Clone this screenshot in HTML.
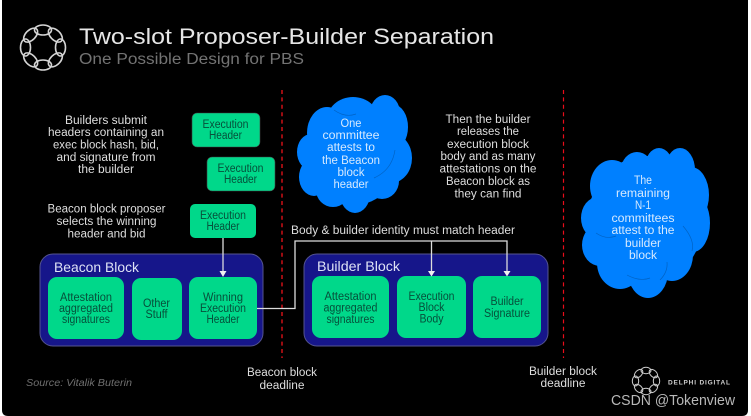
<!DOCTYPE html>
<html><head><meta charset="utf-8"><style>
html,body{margin:0;padding:0;background:#fff;width:751px;height:416px;overflow:hidden}
svg{display:block}
text{font-family:"Liberation Sans",sans-serif;text-anchor:middle}
.b{font-size:11.5px;fill:#dedede}
.c{font-size:11.5px;fill:#074f3a}
.w{font-size:11.5px;fill:#d5e9ff}
</style></head><body>
<svg width="751" height="416" viewBox="0 0 751 416" xmlns="http://www.w3.org/2000/svg">
<defs><filter id="s" x="-5%" y="-5%" width="110%" height="110%"><feGaussianBlur stdDeviation="0.35"/></filter></defs>
<path d="M2 0H748V410Q748 416 742 416H8Q2 416 2 410Z" fill="#000"/>
<g filter="url(#s)">
<!-- logo -->
<g fill="none" stroke="#d4d4d4" stroke-width="1.6" transform="translate(43,47.5)">
<ellipse cx="0" cy="-17.500" rx="8.500" ry="5"/><ellipse cx="0" cy="-17.500" rx="8.500" ry="5" transform="rotate(45)"/><ellipse cx="0" cy="-17.500" rx="8.500" ry="5" transform="rotate(90)"/><ellipse cx="0" cy="-17.500" rx="8.500" ry="5" transform="rotate(135)"/><ellipse cx="0" cy="-17.500" rx="8.500" ry="5" transform="rotate(180)"/><ellipse cx="0" cy="-17.500" rx="8.500" ry="5" transform="rotate(225)"/><ellipse cx="0" cy="-17.500" rx="8.500" ry="5" transform="rotate(270)"/><ellipse cx="0" cy="-17.500" rx="8.500" ry="5" transform="rotate(315)"/>
</g>
<text x="79" y="44" font-size="22" fill="#e6e6e6" style="text-anchor:start" textLength="415" lengthAdjust="spacingAndGlyphs">Two-slot Proposer-Builder Separation</text>
<text x="79" y="64" font-size="15.5" fill="#737373" style="text-anchor:start" textLength="225" lengthAdjust="spacingAndGlyphs">One Possible Design for PBS</text>

<!-- dashed deadlines -->
<line x1="282" y1="90" x2="282" y2="358" stroke="#c00d18" stroke-width="1.6" stroke-dasharray="4 3.4"/>
<line x1="563.5" y1="90" x2="563.5" y2="358" stroke="#e8101c" stroke-width="1.2" stroke-dasharray="4 3.4"/>

<!-- left text -->
<text class="b" x="106" y="124" textLength="82" lengthAdjust="spacingAndGlyphs">Builders submit</text>
<text class="b" x="106" y="136" textLength="116" lengthAdjust="spacingAndGlyphs">headers containing an</text>
<text class="b" x="106" y="148.500" textLength="106" lengthAdjust="spacingAndGlyphs">exec block hash, bid,</text>
<text class="b" x="106" y="161" textLength="99" lengthAdjust="spacingAndGlyphs">and signature from</text>
<text class="b" x="106" y="173" textLength="56" lengthAdjust="spacingAndGlyphs">the builder</text>
<text class="b" x="106.500" y="212.500" textLength="118" lengthAdjust="spacingAndGlyphs">Beacon block proposer</text>
<text class="b" x="106.500" y="225" textLength="100" lengthAdjust="spacingAndGlyphs">selects the winning</text>
<text class="b" x="106.500" y="237.500" textLength="78" lengthAdjust="spacingAndGlyphs">header and bid</text>

<!-- execution headers -->
<rect x="192" y="113" width="68" height="34" rx="5" fill="#00d88a" stroke="#444" stroke-width=".6"/>
<text class="c" x="225.500" y="128" textLength="46" lengthAdjust="spacingAndGlyphs">Execution</text>
<text class="c" x="225.500" y="139" textLength="33" lengthAdjust="spacingAndGlyphs">Header</text>
<rect x="207" y="157" width="68" height="34" rx="5" fill="#00d88a" stroke="#444" stroke-width=".6"/>
<text class="c" x="240.500" y="172" textLength="46" lengthAdjust="spacingAndGlyphs">Execution</text>
<text class="c" x="240.500" y="183" textLength="33" lengthAdjust="spacingAndGlyphs">Header</text>
<rect x="190" y="204" width="66" height="34" rx="5" fill="#00d88a"/>
<text class="c" x="223" y="219" textLength="46" lengthAdjust="spacingAndGlyphs">Execution</text>
<text class="c" x="223" y="230" textLength="33" lengthAdjust="spacingAndGlyphs">Header</text>

<!-- cloud 1 -->
<g fill="#0080ff">
<ellipse cx="354" cy="155" rx="46" ry="50"/>
<ellipse cx="385" cy="113" rx="15" ry="18"/>
<ellipse cx="353" cy="120" rx="26" ry="23"/>
<ellipse cx="327" cy="133" rx="20" ry="26"/>
<ellipse cx="311" cy="152" rx="14" ry="18"/>
<ellipse cx="314" cy="177" rx="15" ry="19"/>
<ellipse cx="333" cy="190" rx="17" ry="17"/>
<ellipse cx="355" cy="194" rx="15" ry="19"/>
<ellipse cx="382" cy="181" rx="17" ry="18"/>
<ellipse cx="391" cy="158" rx="21" ry="25"/>
<ellipse cx="394" cy="127" rx="14" ry="22"/>
</g>
<text class="w" x="351" y="127" textLength="21" lengthAdjust="spacingAndGlyphs">One</text>
<text class="w" x="351" y="139" textLength="57" lengthAdjust="spacingAndGlyphs">committee</text>
<text class="w" x="351" y="151" textLength="48" lengthAdjust="spacingAndGlyphs">attests to</text>
<text class="w" x="351" y="164" textLength="58" lengthAdjust="spacingAndGlyphs">the Beacon</text>
<text class="w" x="351" y="176" textLength="27" lengthAdjust="spacingAndGlyphs">block</text>
<text class="w" x="351" y="188" textLength="35" lengthAdjust="spacingAndGlyphs">header</text>

<!-- middle text -->
<text class="b" x="488" y="123" textLength="85" lengthAdjust="spacingAndGlyphs">Then the builder</text>
<text class="b" x="488" y="135" textLength="62" lengthAdjust="spacingAndGlyphs">releases the</text>
<text class="b" x="488" y="148" textLength="82" lengthAdjust="spacingAndGlyphs">execution block</text>
<text class="b" x="488" y="160" textLength="95" lengthAdjust="spacingAndGlyphs">body and as many</text>
<text class="b" x="488" y="172.500" textLength="97" lengthAdjust="spacingAndGlyphs">attestations on the</text>
<text class="b" x="488" y="185" textLength="84" lengthAdjust="spacingAndGlyphs">Beacon block as</text>
<text class="b" x="488" y="197.500" textLength="67" lengthAdjust="spacingAndGlyphs">they can find</text>

<!-- cloud 2 -->
<g fill="#0080ff">
<ellipse cx="645" cy="222" rx="58" ry="62"/>
<ellipse cx="650" cy="180" rx="42" ry="24"/>
<ellipse cx="612" cy="186" rx="22" ry="26"/>
<ellipse cx="637" cy="170" rx="16" ry="18"/>
<ellipse cx="659" cy="167" rx="14" ry="19"/>
<ellipse cx="680" cy="170" rx="15" ry="22"/>
<ellipse cx="691" cy="195" rx="18" ry="28"/>
<ellipse cx="693" cy="223" rx="17" ry="29"/>
<ellipse cx="672" cy="255" rx="21" ry="26"/>
<ellipse cx="648" cy="272" rx="20" ry="26"/>
<ellipse cx="620" cy="263" rx="23" ry="26"/>
<ellipse cx="600" cy="245" rx="18" ry="21"/>
<ellipse cx="598" cy="218" rx="17" ry="21"/>
</g>
<g fill="none" stroke="#0062c4" stroke-width=".7">
<path d="M596 233Q606 240 616 236"/>
<path d="M683 226Q695 240 692 251"/>
<path d="M627 275Q640 282 650 278"/>
<path d="M660 280Q668 272 667 262"/>
<path d="M374 178Q392 170 395 150"/>
<path d="M334 110Q345 118 356 114"/>
</g>
<text class="w" x="643" y="184" textLength="18" lengthAdjust="spacingAndGlyphs">The</text>
<text class="w" x="643" y="197" textLength="54" lengthAdjust="spacingAndGlyphs">remaining</text>
<text class="w" x="643" y="209" textLength="16" lengthAdjust="spacingAndGlyphs">N-1</text>
<text class="w" x="643" y="222" textLength="63" lengthAdjust="spacingAndGlyphs">committees</text>
<text class="w" x="643" y="234" textLength="63" lengthAdjust="spacingAndGlyphs">attest to the</text>
<text class="w" x="643" y="247" textLength="36" lengthAdjust="spacingAndGlyphs">builder</text>
<text class="w" x="643" y="259" textLength="28" lengthAdjust="spacingAndGlyphs">block</text>

<text class="b" x="403" y="234" textLength="224" lengthAdjust="spacingAndGlyphs">Body &amp; builder identity must match header</text>

<!-- beacon block -->
<rect x="40" y="254" width="223" height="92" rx="13" fill="#12128a" stroke="#55558f" stroke-width="1"/>
<text x="54" y="272" font-size="14" fill="#dfe3f5" style="text-anchor:start" textLength="85" lengthAdjust="spacingAndGlyphs">Beacon Block</text>
<rect x="48" y="277" width="76" height="62" rx="9" fill="#00d88a"/>
<rect x="132" y="278" width="50" height="62" rx="9" fill="#00d88a"/>
<rect x="189" y="277" width="68" height="62" rx="9" fill="#00d88a"/>
<text class="c" x="86" y="301" textLength="52" lengthAdjust="spacingAndGlyphs">Attestation</text>
<text class="c" x="86" y="312" textLength="54" lengthAdjust="spacingAndGlyphs">aggregated</text>
<text class="c" x="86" y="323" textLength="48" lengthAdjust="spacingAndGlyphs">signatures</text>
<text class="c" x="156.500" y="307" textLength="27" lengthAdjust="spacingAndGlyphs">Other</text>
<text class="c" x="156.500" y="318" textLength="22" lengthAdjust="spacingAndGlyphs">Stuff</text>
<text class="c" x="223" y="301" textLength="40" lengthAdjust="spacingAndGlyphs">Winning</text>
<text class="c" x="223" y="312" textLength="46" lengthAdjust="spacingAndGlyphs">Execution</text>
<text class="c" x="223" y="323" textLength="33" lengthAdjust="spacingAndGlyphs">Header</text>

<!-- builder block -->
<rect x="304" y="254" width="244" height="92" rx="13" fill="#12128a" stroke="#55558f" stroke-width="1"/>
<text x="317" y="271" font-size="14" fill="#dfe3f5" style="text-anchor:start" textLength="83" lengthAdjust="spacingAndGlyphs">Builder Block</text>
<rect x="312" y="276" width="77" height="62" rx="9" fill="#00d88a"/>
<rect x="397" y="276" width="69" height="62" rx="9" fill="#00d88a"/>
<rect x="473" y="276" width="68" height="62" rx="9" fill="#00d88a"/>
<text class="c" x="350.500" y="300" textLength="52" lengthAdjust="spacingAndGlyphs">Attestation</text>
<text class="c" x="350.500" y="311.500" textLength="54" lengthAdjust="spacingAndGlyphs">aggregated</text>
<text class="c" x="350.500" y="323" textLength="48" lengthAdjust="spacingAndGlyphs">signatures</text>
<text class="c" x="431.500" y="300" textLength="46" lengthAdjust="spacingAndGlyphs">Execution</text>
<text class="c" x="431.500" y="311" textLength="26" lengthAdjust="spacingAndGlyphs">Block</text>
<text class="c" x="431.500" y="322.500" textLength="24" lengthAdjust="spacingAndGlyphs">Body</text>
<text class="c" x="507" y="305" textLength="33" lengthAdjust="spacingAndGlyphs">Builder</text>
<text class="c" x="507" y="317" textLength="46" lengthAdjust="spacingAndGlyphs">Signature</text>

<!-- connectors -->
<g fill="none" stroke="#dcdcdc" stroke-width="1.3">
<path d="M223 238V271"/>
<path d="M257 308.500H295V241H507V271"/>
<path d="M431.500 241V271"/>
</g>
<g fill="#f0f0f0">
<path d="M219.500 271H226.500L223 277Z"/>
<path d="M428 271H435L431.500 276.500Z"/>
<path d="M503.500 271H510.500L507 276.500Z"/>
</g>

<text x="26" y="386" font-size="10" font-style="italic" fill="#6f6f6f" style="text-anchor:start" textLength="106" lengthAdjust="spacingAndGlyphs">Source: Vitalik Buterin</text>
<text class="b" x="282" y="376" textLength="70" lengthAdjust="spacingAndGlyphs">Beacon block</text>
<text class="b" x="282" y="389" textLength="45" lengthAdjust="spacingAndGlyphs">deadline</text>
<text class="b" x="563" y="375" textLength="68" lengthAdjust="spacingAndGlyphs">Builder block</text>
<text class="b" x="563" y="387" textLength="45" lengthAdjust="spacingAndGlyphs">deadline</text>

<!-- delphi logo -->
<g fill="none" stroke="#cfcfcf" stroke-width="1" transform="translate(646,381)">
<ellipse cx="0" cy="-10.500" rx="5" ry="3.200"/><ellipse cx="0" cy="-10.500" rx="5" ry="3.200" transform="rotate(45)"/><ellipse cx="0" cy="-10.500" rx="5" ry="3.200" transform="rotate(90)"/><ellipse cx="0" cy="-10.500" rx="5" ry="3.200" transform="rotate(135)"/><ellipse cx="0" cy="-10.500" rx="5" ry="3.200" transform="rotate(180)"/><ellipse cx="0" cy="-10.500" rx="5" ry="3.200" transform="rotate(225)"/><ellipse cx="0" cy="-10.500" rx="5" ry="3.200" transform="rotate(270)"/><ellipse cx="0" cy="-10.500" rx="5" ry="3.200" transform="rotate(315)"/>
</g>
<text x="668" y="384.500" font-size="6.500" font-weight="bold" fill="#cfcfcf" style="text-anchor:start" textLength="62" lengthAdjust="spacing">DELPHI DIGITAL</text>
</g>
<text x="611" y="405" font-size="15" fill="#b8b8b8" style="text-anchor:start" textLength="124" lengthAdjust="spacingAndGlyphs">CSDN @Tokenview</text>
</svg>
</body></html>
